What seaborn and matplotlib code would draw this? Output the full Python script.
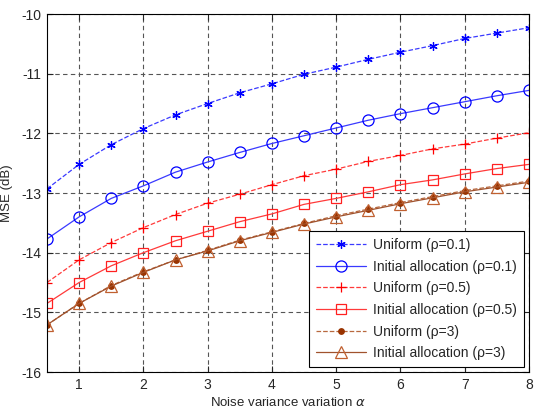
import numpy as np
import pandas as pd
import matplotlib.pyplot as plt
import seaborn as sns

alpha = [0.5, 1, 1.5, 2, 2.5, 3, 3.5, 4, 4.5, 5, 5.5, 6, 6.5, 7, 7.5, 8]

uniform_01 = [-12.93, -12.52, -12.19, -11.92, -11.69, -11.50, -11.32, -11.17,
              -11.01, -10.89, -10.76, -10.64, -10.53, -10.41, -10.32, -10.23]
initial_01 = [-13.77, -13.40, -13.09, -12.88, -12.65, -12.48, -12.32, -12.17,
              -12.04, -11.91, -11.78, -11.67, -11.57, -11.47, -11.37, -11.28]
uniform_05 = [-14.50, -14.12, -13.83, -13.58, -13.36, -13.17, -13.02, -12.86,
              -12.71, -12.60, -12.47, -12.37, -12.26, -12.18, -12.08, -11.99]
initial_05 = [-14.85, -14.50, -14.22, -14.00, -13.80, -13.64, -13.48, -13.35,
              -13.19, -13.09, -12.98, -12.86, -12.78, -12.68, -12.59, -12.52]
uniform_3 = [-15.21, -14.85, -14.55, -14.32, -14.12, -13.96, -13.79, -13.65,
             -13.51, -13.38, -13.27, -13.16, -13.06, -12.96, -12.88, -12.80]
initial_3 = [-15.21, -14.85, -14.56, -14.33, -14.12, -13.97, -13.80, -13.66,
             -13.52, -13.40, -13.29, -13.18, -13.08, -12.98, -12.90, -12.82]

sns.set_style("ticks")
plt.rcParams["font.family"] = ["Liberation Sans", "DejaVu Sans"]
plt.rcParams["mathtext.fontset"] = "dejavusans"
plt.rcParams["axes.unicode_minus"] = False

fig = plt.figure(figsize=(5.37, 4.12), dpi=100)
ax = fig.add_axes([0.0875, 0.097, 0.8975, 0.869])

asterisk = (6, 2, 0)
series = [
    (uniform_01, "Uniform (\u03c1=0.1)", "#3a3aff", "--", asterisk, "#0000ff", "#0000ff", 6),
    (initial_01, "Initial allocation (\u03c1=0.1)", "#3a3aff", "-", "o", "none", "#0000ff", 8),
    (uniform_05, "Uniform (\u03c1=0.5)", "#ff3a3a", "--", "+", "#ff0000", "#ff0000", 7),
    (initial_05, "Initial allocation (\u03c1=0.5)", "#ff3a3a", "-", "s", "none", "#ff2020", 7),
    (uniform_3, "Uniform (\u03c1=3)", "#b8683e", "--", "o", "#993300", "#993300", 4),
    (initial_3, "Initial allocation (\u03c1=3)", "#a0522d", "-", "^", "none", "#c06030", 8),
]

for vals, label, color, ls, mk, mfc, mec, ms in series:
    df = pd.DataFrame({"alpha": alpha, "mse": vals})
    sns.lineplot(data=df, x="alpha", y="mse", ax=ax, color=color, linestyle=ls,
                 linewidth=0.9, marker=mk, markersize=ms, markerfacecolor=mfc,
                 markeredgecolor=mec, markeredgewidth=0.9, label=label)

ax.set_xlim(0.5, 8)
ax.set_ylim(-16, -10)
ax.set_xticks(range(1, 9))
ax.set_yticks(range(-16, -9))
ax.grid(True, color="#555555", linestyle=(0, (4, 3)), linewidth=0.8)
ax.tick_params(direction="in", top=True, right=True, labelsize=10, length=4, pad=4)
for s in ax.spines.values():
    s.set_linewidth(0.8)
    s.set_color("black")
ax.set_xlabel("Noise variance variation $\\alpha$", fontsize=9.5, labelpad=3)
ax.set_ylabel("MSE (dB)", fontsize=9.5, labelpad=6)

leg = ax.legend(loc="lower right", fontsize=10, fancybox=False, framealpha=1,
                edgecolor="black", handlelength=3.6, borderaxespad=0.35,
                labelspacing=0.55, borderpad=0.5, handletextpad=0.5)
leg.get_frame().set_linewidth(0.8)

fig.savefig("out.png", dpi=100)
